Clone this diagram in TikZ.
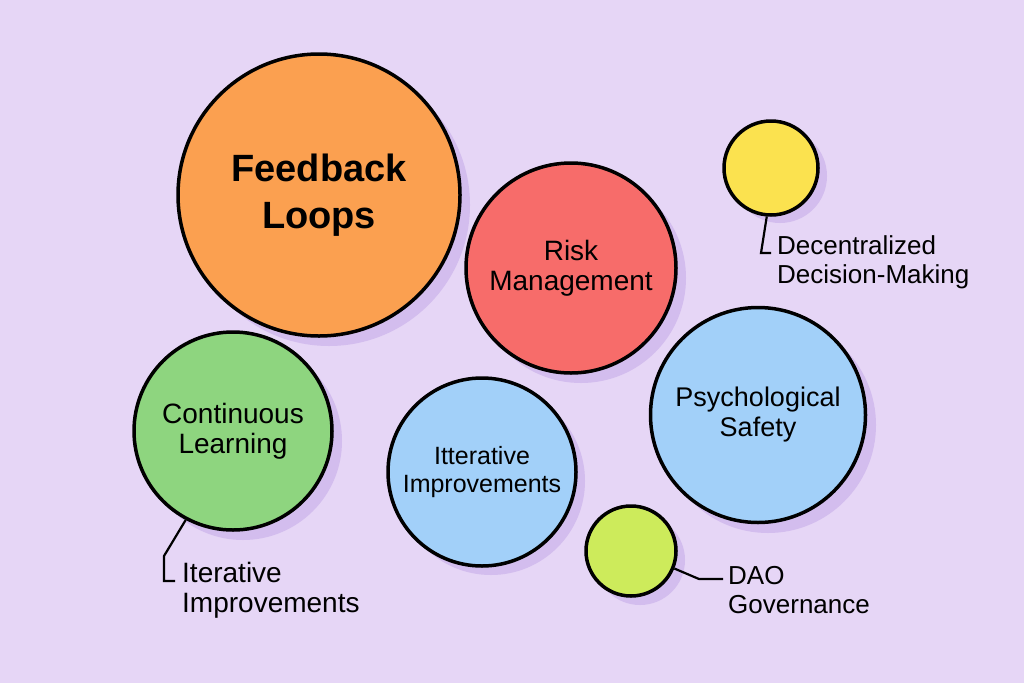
\documentclass[tikz,border=0pt]{standalone}
\usepackage{fontspec}
\setmainfont{Liberation Sans}
\definecolor{bg}{HTML}{E6D6F6}
\definecolor{shad}{HTML}{D3BDEE}
\definecolor{corange}{HTML}{FBA050}
\definecolor{cred}{HTML}{F76C6A}
\definecolor{cyellow}{HTML}{FBE24F}
\definecolor{cgreen}{HTML}{8ED57F}
\definecolor{cblue}{HTML}{A2D0F9}
\definecolor{clime}{HTML}{CDEB5B}
\tikzset{
  bubble/.style={circle, draw=black, line width=3.5pt, inner sep=0pt, align=center, text=black},
  callout/.style={draw=black, line width=2.2pt},
  clabel/.style={anchor=west, align=left, inner sep=0pt, font=\fontsize{26}{29}\selectfont},
}
\begin{document}
\begin{tikzpicture}[x=1pt,y=-1pt]
\fill[bg] (0,0) rectangle (1024,683);
\useasboundingbox (0,0) rectangle (1024,683);
% shadows
\fill[shad] (329,205) circle[radius=141];
\fill[shad] (581,278) circle[radius=105];
\fill[shad] (780,176) circle[radius=47];
\fill[shad] (243,441) circle[radius=99];
\fill[shad] (491,481) circle[radius=94];
\fill[shad] (768,425) circle[radius=108];
\fill[shad] (640,560) circle[radius=45];
% bubbles
\node[bubble, fill=corange, minimum size=282pt, font=\fontsize{38}{47}\selectfont\bfseries] (fb) at (319,195) {Feedback\\Loops};
\node[bubble, fill=cred, minimum size=210pt, font=\fontsize{28}{30}\selectfont] (rm) at (571,268) {Risk\\Management};
\node[bubble, fill=cyellow, minimum size=94pt] (dd) at (771,168) {};
\node[bubble, fill=cgreen, minimum size=198pt, font=\fontsize{28}{30}\selectfont] (cl) at (233,431) {Continuous\\Learning};
\node[bubble, fill=cblue, minimum size=188pt, font=\fontsize{25}{28}\selectfont] (ii) at (482,472) {Itterative\\Improvements};
\node[bubble, fill=cblue, minimum size=215pt, font=\fontsize{27}{30}\selectfont] (ps) at (758,415) {Psychological\\Safety};
\node[bubble, fill=clime, minimum size=90pt] (dao) at (631,551) {};
% callout labels
\node[clabel] (ldd) at (777,262) {Decentralized\\Decision-Making};
\node[clabel, font=\fontsize{28}{30}\selectfont] (lii) at (182,590) {Iterative\\Improvements};
\node[clabel] (ldao) at (728,590) {DAO\\Governance};
% callout lines
\coordinate (d1) at (761,253);
\coordinate (d2) at (771,253);
\draw[callout] (dd.265) -- (d1) -- (d2);
\coordinate (i1) at (164,556);
\coordinate (i2) at (164,581);
\coordinate (i3) at (175,581);
\draw[callout] (cl.242) -- (i1) -- (i2) -- (i3);
\coordinate (a1) at (699,579);
\coordinate (a2) at (723,579);
\draw[callout] (dao.-22) -- (a1) -- (a2);
\end{tikzpicture}
\end{document}
